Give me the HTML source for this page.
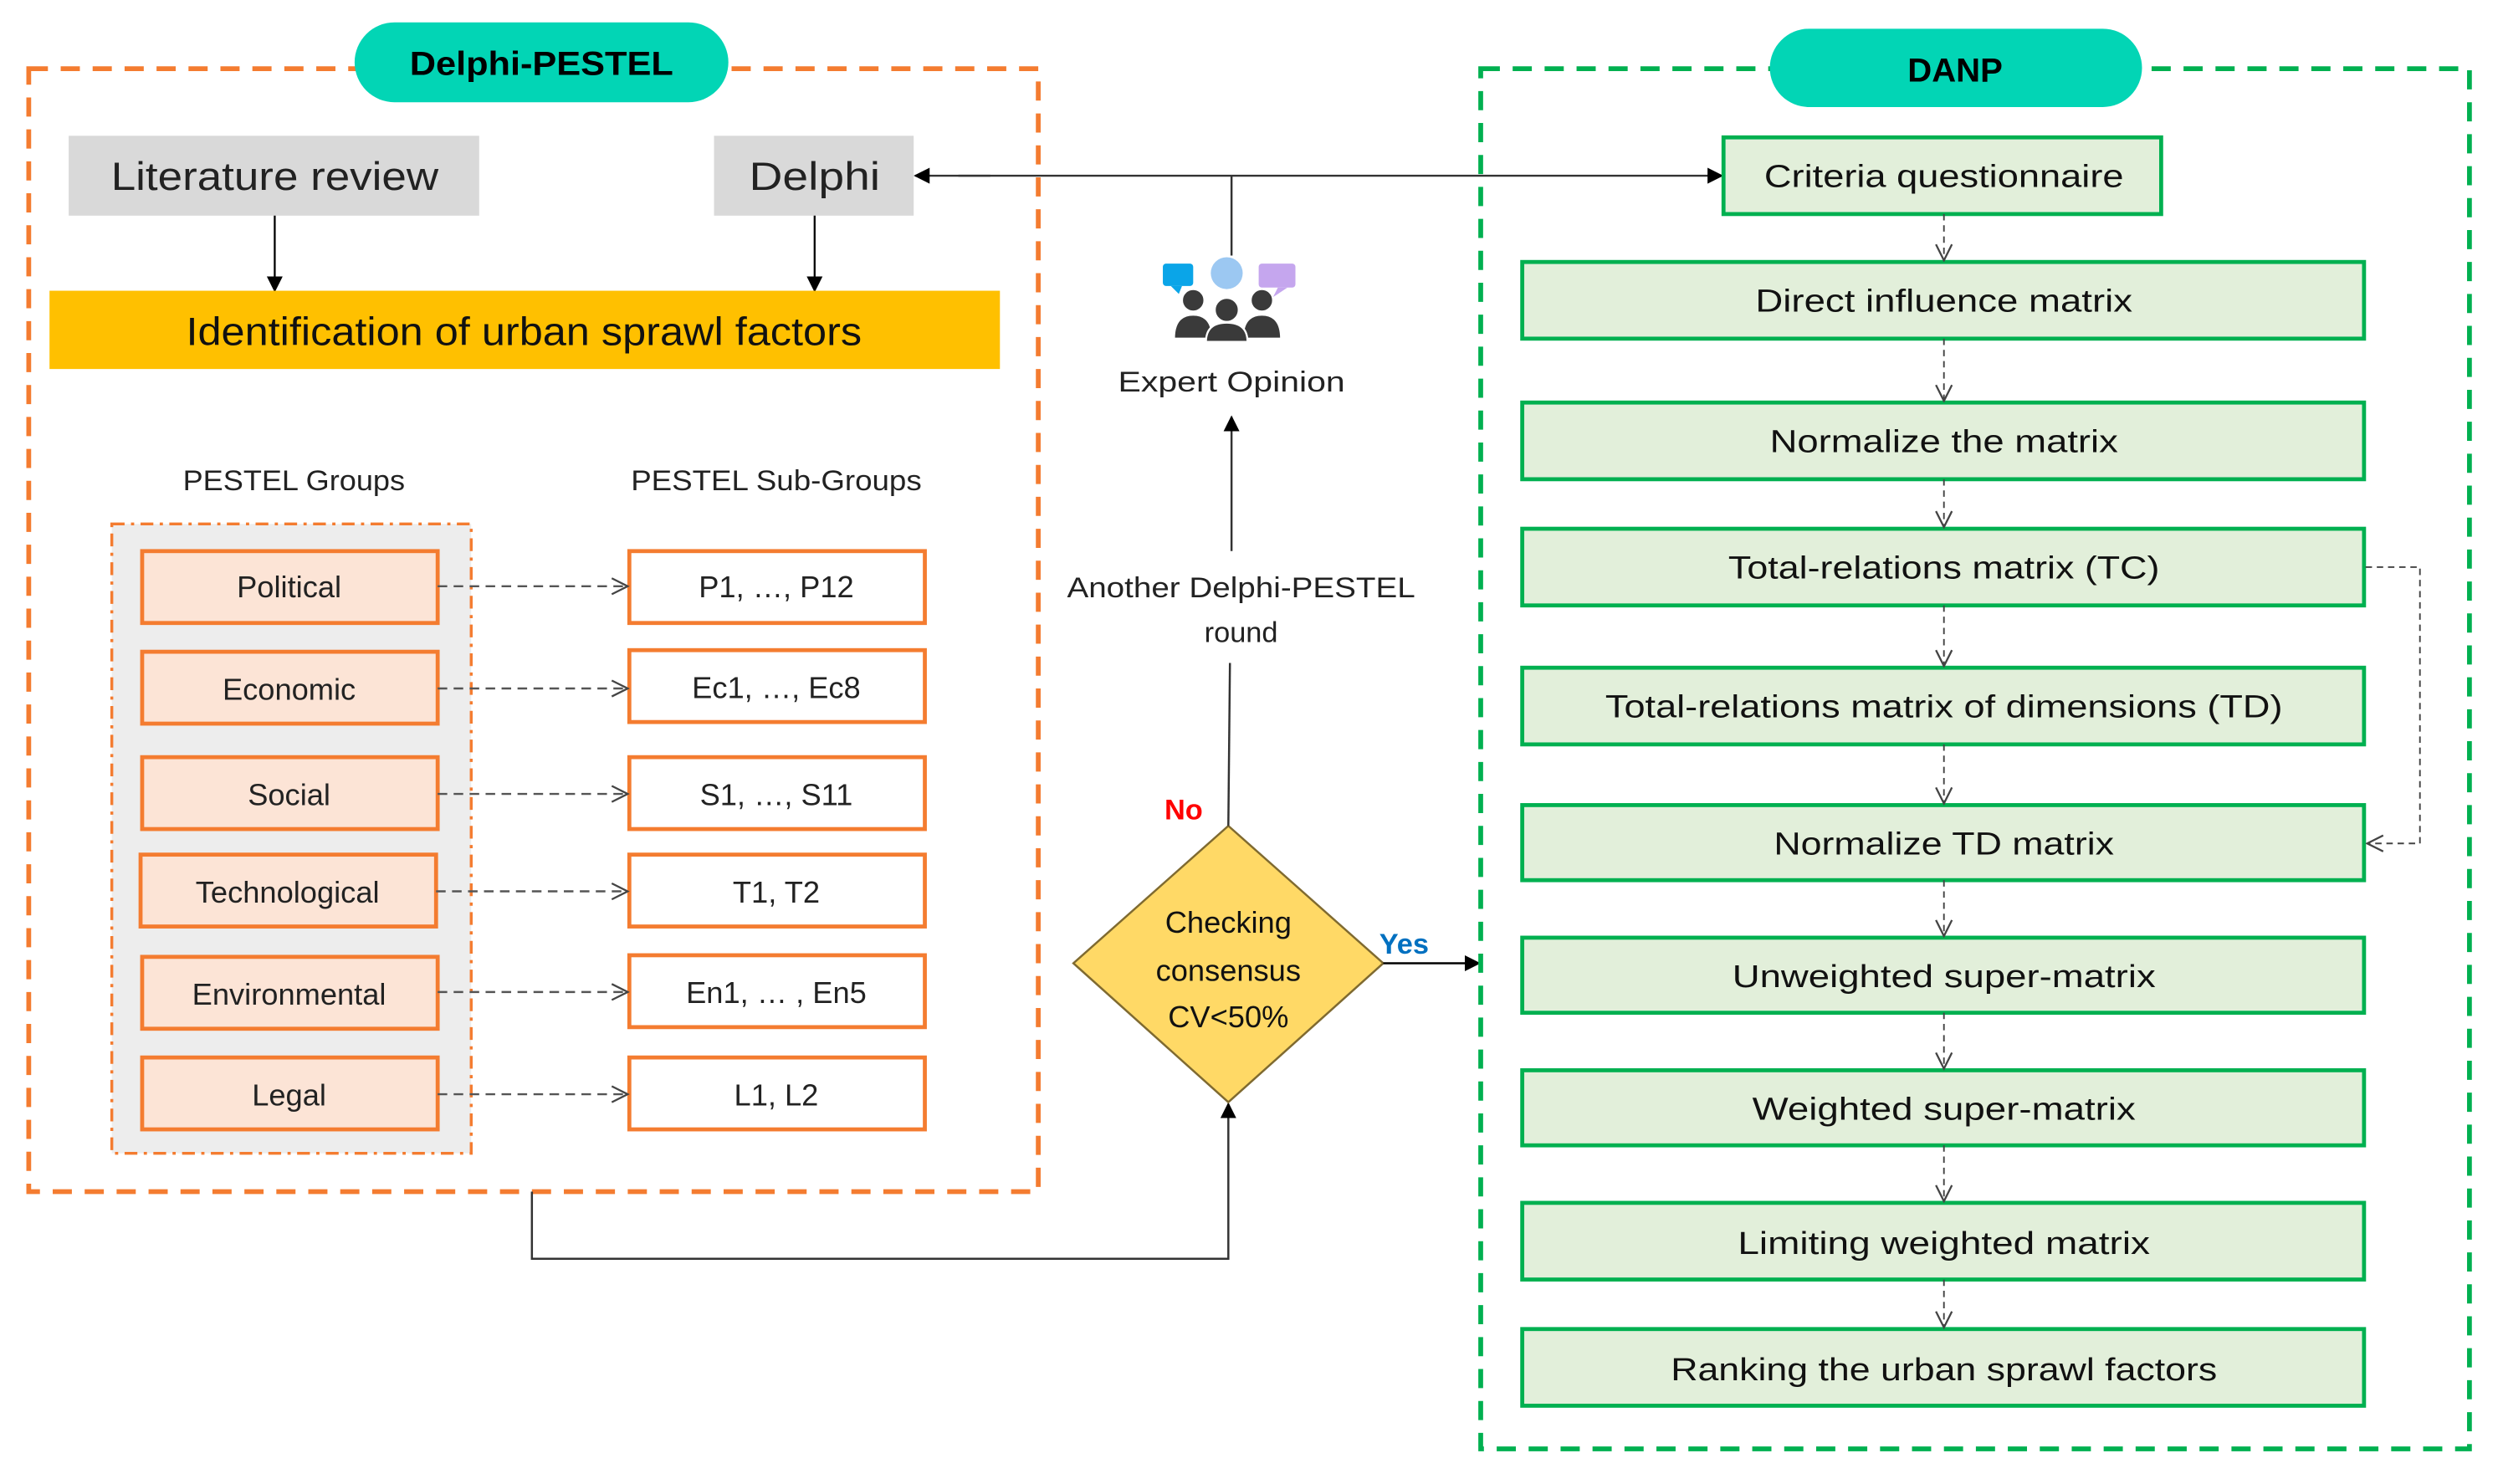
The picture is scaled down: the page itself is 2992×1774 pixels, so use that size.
<!DOCTYPE html>
<html><head><meta charset="utf-8"><style>html,body{margin:0;padding:0;background:#fff}svg{display:block}</style></head>
<body>
<svg width="2992" height="1774" viewBox="0 0 1567 929" preserveAspectRatio="none" xmlns="http://www.w3.org/2000/svg" font-family="Liberation Sans, sans-serif">
<defs>
<marker id="fa" markerWidth="10" markerHeight="10" refX="9" refY="5" orient="auto" markerUnits="userSpaceOnUse"><path d="M0,0 L10,5 L0,10 z" fill="#000"/></marker>
<marker id="oa" markerWidth="12" markerHeight="12" refX="11" refY="6" orient="auto" markerUnits="userSpaceOnUse"><path d="M1,1 L11,6 L1,11" fill="none" stroke="#444" stroke-width="1.2"/></marker>
</defs>
<!-- Left orange dashed box -->
<rect x="18" y="43" width="632" height="703" fill="none" stroke="#F47C30" stroke-width="3" stroke-dasharray="12,8"/>
<rect x="222" y="14" width="234" height="50" rx="25" fill="#02D5B5"/>
<text x="339" y="47" text-anchor="middle" font-size="21" font-weight="bold" textLength="165" lengthAdjust="spacingAndGlyphs">Delphi-PESTEL</text>
<rect x="43" y="85" width="257" height="50" fill="#D9D9D9"/>
<text x="172" y="119" text-anchor="middle" font-size="25" fill="#222" textLength="205" lengthAdjust="spacingAndGlyphs">Literature review</text>
<rect x="447" y="85" width="125" height="50" fill="#D9D9D9"/>
<text x="510" y="119" text-anchor="middle" font-size="25" fill="#222" textLength="82" lengthAdjust="spacingAndGlyphs">Delphi</text>
<line x1="172" y1="135" x2="172" y2="182" stroke="#000" stroke-width="1.2" marker-end="url(#fa)"/>
<line x1="510" y1="135" x2="510" y2="182" stroke="#000" stroke-width="1.2" marker-end="url(#fa)"/>
<rect x="31" y="182" width="595" height="49" fill="#FFC000"/>
<text x="328" y="216" text-anchor="middle" font-size="25" fill="#111" textLength="423" lengthAdjust="spacingAndGlyphs">Identification of urban sprawl factors</text>
<text x="184" y="307" text-anchor="middle" font-size="18" fill="#222" textLength="139" lengthAdjust="spacingAndGlyphs">PESTEL Groups</text>
<text x="486" y="307" text-anchor="middle" font-size="18" fill="#222" textLength="182" lengthAdjust="spacingAndGlyphs">PESTEL Sub-Groups</text>
<rect x="70" y="328" width="225" height="394" fill="#EDEDED" stroke="#F47C30" stroke-width="1.8" stroke-dasharray="8,4,2,4"/>
<g font-size="19" fill="#222" text-anchor="middle">
<g>
<rect x="89" y="345" width="185" height="45" fill="#FCE4D6" stroke="#F47C30" stroke-width="2.5"/>
<rect x="394" y="345" width="185" height="45" fill="#fff" stroke="#F47C30" stroke-width="2.5"/>
<text x="181" y="374">Political</text><text x="486" y="374">P1, …, P12</text>
<line x1="274" y1="367" x2="393" y2="367" stroke="#555" stroke-width="1.3" stroke-dasharray="6,4" marker-end="url(#oa)"/>
</g>
<g>
<rect x="89" y="408" width="185" height="45" fill="#FCE4D6" stroke="#F47C30" stroke-width="2.5"/>
<rect x="394" y="407" width="185" height="45" fill="#fff" stroke="#F47C30" stroke-width="2.5"/>
<text x="181" y="438">Economic</text><text x="486" y="437">Ec1, …, Ec8</text>
<line x1="274" y1="431" x2="393" y2="431" stroke="#555" stroke-width="1.3" stroke-dasharray="6,4" marker-end="url(#oa)"/>
</g>
<g>
<rect x="89" y="474" width="185" height="45" fill="#FCE4D6" stroke="#F47C30" stroke-width="2.5"/>
<rect x="394" y="474" width="185" height="45" fill="#fff" stroke="#F47C30" stroke-width="2.5"/>
<text x="181" y="504">Social</text><text x="486" y="504">S1, …, S11</text>
<line x1="274" y1="497" x2="393" y2="497" stroke="#555" stroke-width="1.3" stroke-dasharray="6,4" marker-end="url(#oa)"/>
</g>
<g>
<rect x="88" y="535" width="185" height="45" fill="#FCE4D6" stroke="#F47C30" stroke-width="2.5"/>
<rect x="394" y="535" width="185" height="45" fill="#fff" stroke="#F47C30" stroke-width="2.5"/>
<text x="180" y="565">Technological</text><text x="486" y="565">T1, T2</text>
<line x1="273" y1="558" x2="393" y2="558" stroke="#555" stroke-width="1.3" stroke-dasharray="6,4" marker-end="url(#oa)"/>
</g>
<g>
<rect x="89" y="599" width="185" height="45" fill="#FCE4D6" stroke="#F47C30" stroke-width="2.5"/>
<rect x="394" y="598" width="185" height="45" fill="#fff" stroke="#F47C30" stroke-width="2.5"/>
<text x="181" y="629">Environmental</text><text x="486" y="628">En1, … , En5</text>
<line x1="274" y1="621" x2="393" y2="621" stroke="#555" stroke-width="1.3" stroke-dasharray="6,4" marker-end="url(#oa)"/>
</g>
<g>
<rect x="89" y="662" width="185" height="45" fill="#FCE4D6" stroke="#F47C30" stroke-width="2.5"/>
<rect x="394" y="662" width="185" height="45" fill="#fff" stroke="#F47C30" stroke-width="2.5"/>
<text x="181" y="692">Legal</text><text x="486" y="692">L1, L2</text>
<line x1="274" y1="685" x2="393" y2="685" stroke="#555" stroke-width="1.3" stroke-dasharray="6,4" marker-end="url(#oa)"/>
</g>
</g>
<!-- bottom loop line -->
<polyline points="333,746 333,788 769,788 769,691" fill="none" stroke="#333" stroke-width="1.3" marker-end="url(#fa)"/>
<!-- diamond -->
<polygon points="769,517 866,603 769,690 672,603" fill="#FFD966" stroke="#7F6A30" stroke-width="1.3"/>
<g font-size="19" fill="#111" text-anchor="middle">
<text x="769" y="584">Checking</text><text x="769" y="614">consensus</text><text x="769" y="643">CV&lt;50%</text>
</g>
<text x="741" y="513" text-anchor="middle" font-size="18" font-weight="bold" fill="#FF0000">No</text>
<text x="879" y="597" text-anchor="middle" font-size="18" font-weight="bold" fill="#0070C0">Yes</text>
<line x1="866" y1="603" x2="926" y2="603" stroke="#000" stroke-width="1.3" marker-end="url(#fa)"/>
<line x1="769" y1="517" x2="770" y2="415" stroke="#333" stroke-width="1.3"/>
<text x="777" y="374" text-anchor="middle" font-size="18" fill="#222" textLength="218" lengthAdjust="spacingAndGlyphs">Another Delphi-PESTEL</text>
<text x="777" y="402" text-anchor="middle" font-size="18" fill="#222">round</text>
<line x1="771" y1="345" x2="771" y2="261" stroke="#333" stroke-width="1.3" marker-end="url(#fa)"/>
<text x="771" y="245" text-anchor="middle" font-size="18" fill="#222" textLength="142" lengthAdjust="spacingAndGlyphs">Expert Opinion</text>
<!-- icon -->
<g>
<rect x="728" y="165" width="19" height="14" rx="2" fill="#0AA5E8"/><path d="M733,179 L738,184 L740,179z" fill="#0AA5E8"/>
<ellipse cx="768" cy="171" rx="10" ry="10" fill="#9CC8F2"/>
<rect x="788" y="165" width="23" height="15" rx="2" fill="#C5A6EE"/><path d="M800,180 L797,186 L806,180z" fill="#C5A6EE"/>
<g fill="#3A3A3A" stroke="#fff" stroke-width="1.2">
<circle cx="747" cy="188" r="7"/><path d="M735,212 Q735,197 747,197 Q759,197 759,212z"/>
<circle cx="790" cy="188" r="7"/><path d="M778,212 Q778,197 790,197 Q802,197 802,212z"/>
<circle cx="768" cy="194" r="7.5"/><path d="M755,214 Q755,202 768,202 Q781,202 781,214z"/>
</g>
</g>
<!-- horizontal top line -->
<line x1="771" y1="110" x2="771" y2="160" stroke="#333" stroke-width="1.3"/>
<line x1="620" y1="110" x2="573" y2="110" stroke="#333" stroke-width="1.3" marker-end="url(#fa)"/>
<line x1="600" y1="110" x2="1078" y2="110" stroke="#333" stroke-width="1.3" marker-end="url(#fa)"/>
<!-- DANP box -->
<rect x="927" y="43" width="619" height="864" fill="none" stroke="#00B050" stroke-width="3" stroke-dasharray="12,8"/>
<rect x="1108" y="18" width="233" height="49" rx="24.5" fill="#02D5B5"/>
<text x="1224" y="51" text-anchor="middle" font-size="21" font-weight="bold">DANP</text>
<g fill="#E2EFDA" stroke="#00B050" stroke-width="2.5">
<rect x="1079" y="86" width="274" height="48"/>
<rect x="953" y="164" width="527" height="48"/>
<rect x="953" y="252" width="527" height="48"/>
<rect x="953" y="331" width="527" height="48"/>
<rect x="953" y="418" width="527" height="48"/>
<rect x="953" y="504" width="527" height="47"/>
<rect x="953" y="587" width="527" height="47"/>
<rect x="953" y="670" width="527" height="47"/>
<rect x="953" y="753" width="527" height="48"/>
<rect x="953" y="832" width="527" height="48"/>
</g>
<g font-size="20" fill="#111" text-anchor="middle" lengthAdjust="spacingAndGlyphs">
<text x="1217" y="117" textLength="225" lengthAdjust="spacingAndGlyphs">Criteria questionnaire</text>
<text x="1217" y="195" textLength="236" lengthAdjust="spacingAndGlyphs">Direct influence matrix</text>
<text x="1217" y="283" textLength="218" lengthAdjust="spacingAndGlyphs">Normalize the matrix</text>
<text x="1217" y="362" textLength="270" lengthAdjust="spacingAndGlyphs">Total-relations matrix (TC)</text>
<text x="1217" y="449" textLength="424" lengthAdjust="spacingAndGlyphs">Total-relations matrix of dimensions (TD)</text>
<text x="1217" y="535" textLength="213" lengthAdjust="spacingAndGlyphs">Normalize TD matrix</text>
<text x="1217" y="618" textLength="265" lengthAdjust="spacingAndGlyphs">Unweighted super-matrix</text>
<text x="1217" y="701" textLength="240" lengthAdjust="spacingAndGlyphs">Weighted super-matrix</text>
<text x="1217" y="785" textLength="258" lengthAdjust="spacingAndGlyphs">Limiting weighted matrix</text>
<text x="1217" y="864" textLength="342" lengthAdjust="spacingAndGlyphs">Ranking the urban sprawl factors</text>
</g>
<g stroke="#444" stroke-width="1" stroke-dasharray="4,3" fill="none">
<line x1="1217" y1="134" x2="1217" y2="163" marker-end="url(#oa)"/>
<line x1="1217" y1="212" x2="1217" y2="251" marker-end="url(#oa)"/>
<line x1="1217" y1="300" x2="1217" y2="330" marker-end="url(#oa)"/>
<line x1="1217" y1="379" x2="1217" y2="417" marker-end="url(#oa)"/>
<line x1="1217" y1="466" x2="1217" y2="503" marker-end="url(#oa)"/>
<line x1="1217" y1="551" x2="1217" y2="586" marker-end="url(#oa)"/>
<line x1="1217" y1="634" x2="1217" y2="669" marker-end="url(#oa)"/>
<line x1="1217" y1="717" x2="1217" y2="752" marker-end="url(#oa)"/>
<line x1="1217" y1="801" x2="1217" y2="831" marker-end="url(#oa)"/>
<polyline points="1481,355 1515,355 1515,528 1482,528" marker-end="url(#oa)"/>
</g>
</svg>
</body></html>
